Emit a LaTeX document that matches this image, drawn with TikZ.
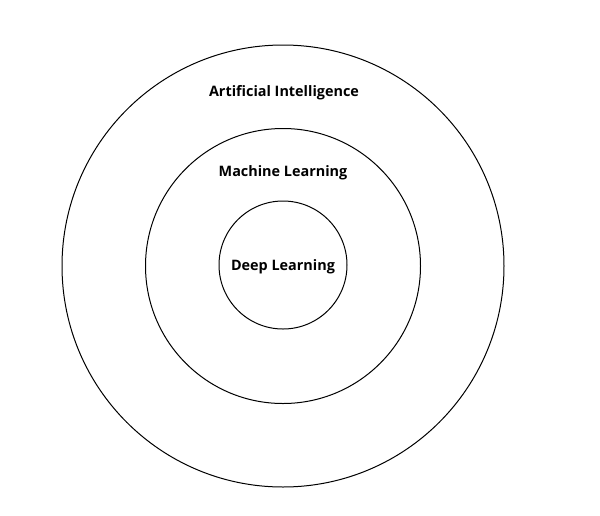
\documentclass[tikz,border=0pt]{standalone}
\usepackage{fontspec}
\setmainfont{Open Sans}
\usetikzlibrary{positioning}

\begin{document}
\begin{tikzpicture}[
      x=1pt,y=-1pt,
      every node/.style={font=\fontsize{14.4}{17}\selectfont\bfseries},
      ring/.style={draw,circle,line width=1pt,inner sep=0pt}
    ]
      \useasboundingbox (0,0) rectangle (600,515);
      \node[ring,minimum size=442pt] (ai) at (283,266) {};
      \node[ring,minimum size=275pt] (ml) at (283,266) {};
      \node[ring,minimum size=128pt] (dl) at (283,265) {};
      \node (dllabel) at (283,267) {Deep Learning};
      \node (ailabel) at (284,93) {Artificial Intelligence};
      \node (mllabel) at (283,173) {Machine Learning};
    \end{tikzpicture}
\end{document}
